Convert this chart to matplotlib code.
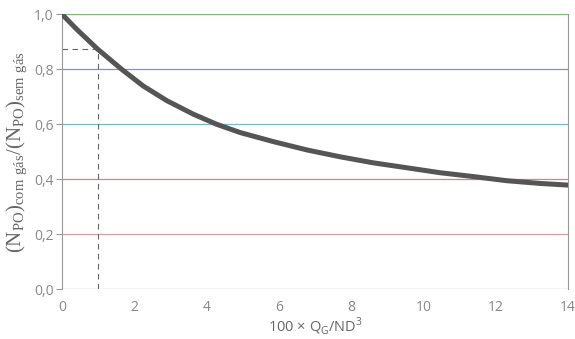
import matplotlib
matplotlib.use('Agg')
import matplotlib.pyplot as plt

# gas flow number (x100) and power ratio with/without gas
q_gas = [0, 0.41, 0.98, 1.65, 2.25, 2.90, 3.63, 4.28, 4.93, 5.85, 6.77,
         7.69, 8.61, 9.54, 10.46, 11.38, 12.30, 13.23, 14.0]
power_ratio = [1.0, 0.945, 0.874, 0.80, 0.739, 0.686, 0.637, 0.60, 0.570,
               0.537, 0.507, 0.482, 0.460, 0.442, 0.424, 0.410, 0.395, 0.385, 0.379]

# marked point on the curve
q_mark = 1.0
ratio_mark = 0.874

y_ticks = [0.0, 0.2, 0.4, 0.6, 0.8, 1.0]
y_labels = ['0,0', '0,2', '0,4', '0,6', '0,8', '1,0']
x_ticks = [0, 2, 4, 6, 8, 10, 12, 14]
grid_colors = ['#a0aa90', '#d8a0a4', '#d88080', '#78b8c4', '#7890e0', '#78c078']

plt.rcParams['font.family'] = ['Open Sans', 'DejaVu Sans']
plt.rcParams['mathtext.fontset'] = 'custom'
plt.rcParams['mathtext.rm'] = 'Open Sans'

fig = plt.figure(figsize=(5.75, 3.39), dpi=100)
ax = fig.add_axes([0.108, 0.1466, 0.88, 0.811])

for yv, col in zip(y_ticks, grid_colors):
    ax.axhline(yv, color=col, lw=0.9, zorder=1)

ax.plot(q_gas, power_ratio, color='#555555', lw=3.6, solid_capstyle='round',
        solid_joinstyle='round', zorder=3)

# dashed guide lines to the marked point
ax.plot([0, q_mark], [ratio_mark, ratio_mark], color='#666666', lw=0.8, ls=(0, (5, 4)), zorder=2)
ax.plot([q_mark, q_mark], [0, ratio_mark], color='#666666', lw=0.8, ls=(0, (5, 4)), zorder=2)

ax.set_xlim(0, 14)
ax.set_ylim(0, 1.0)
ax.set_xticks(x_ticks)
ax.set_yticks(y_ticks)
ax.set_yticklabels(y_labels)

for s in ['left', 'right']:
    ax.spines[s].set_color('#999999')
    ax.spines[s].set_linewidth(0.8)
for s in ['top', 'bottom']:
    ax.spines[s].set_visible(False)

ax.tick_params(axis='y', length=4, width=0.8, color='#999999', labelcolor='#888888',
               labelsize=10, pad=2)
ax.tick_params(axis='x', length=0, labelcolor='#888888', labelsize=10, pad=8)

ax.set_xlabel(r'100 × Q$_\mathregular{G}$/ND$^\mathregular{3}$', color='#666666',
              fontsize=10.5, labelpad=0)
ax.set_ylabel(r'$\mathregular{(N_{PO})_{com\ gás}/(N_{PO})_{sem\ gás}}$',
              family='Liberation Serif', color='#666666', fontsize=15, labelpad=4)

fig.savefig('out.png', dpi=100)
